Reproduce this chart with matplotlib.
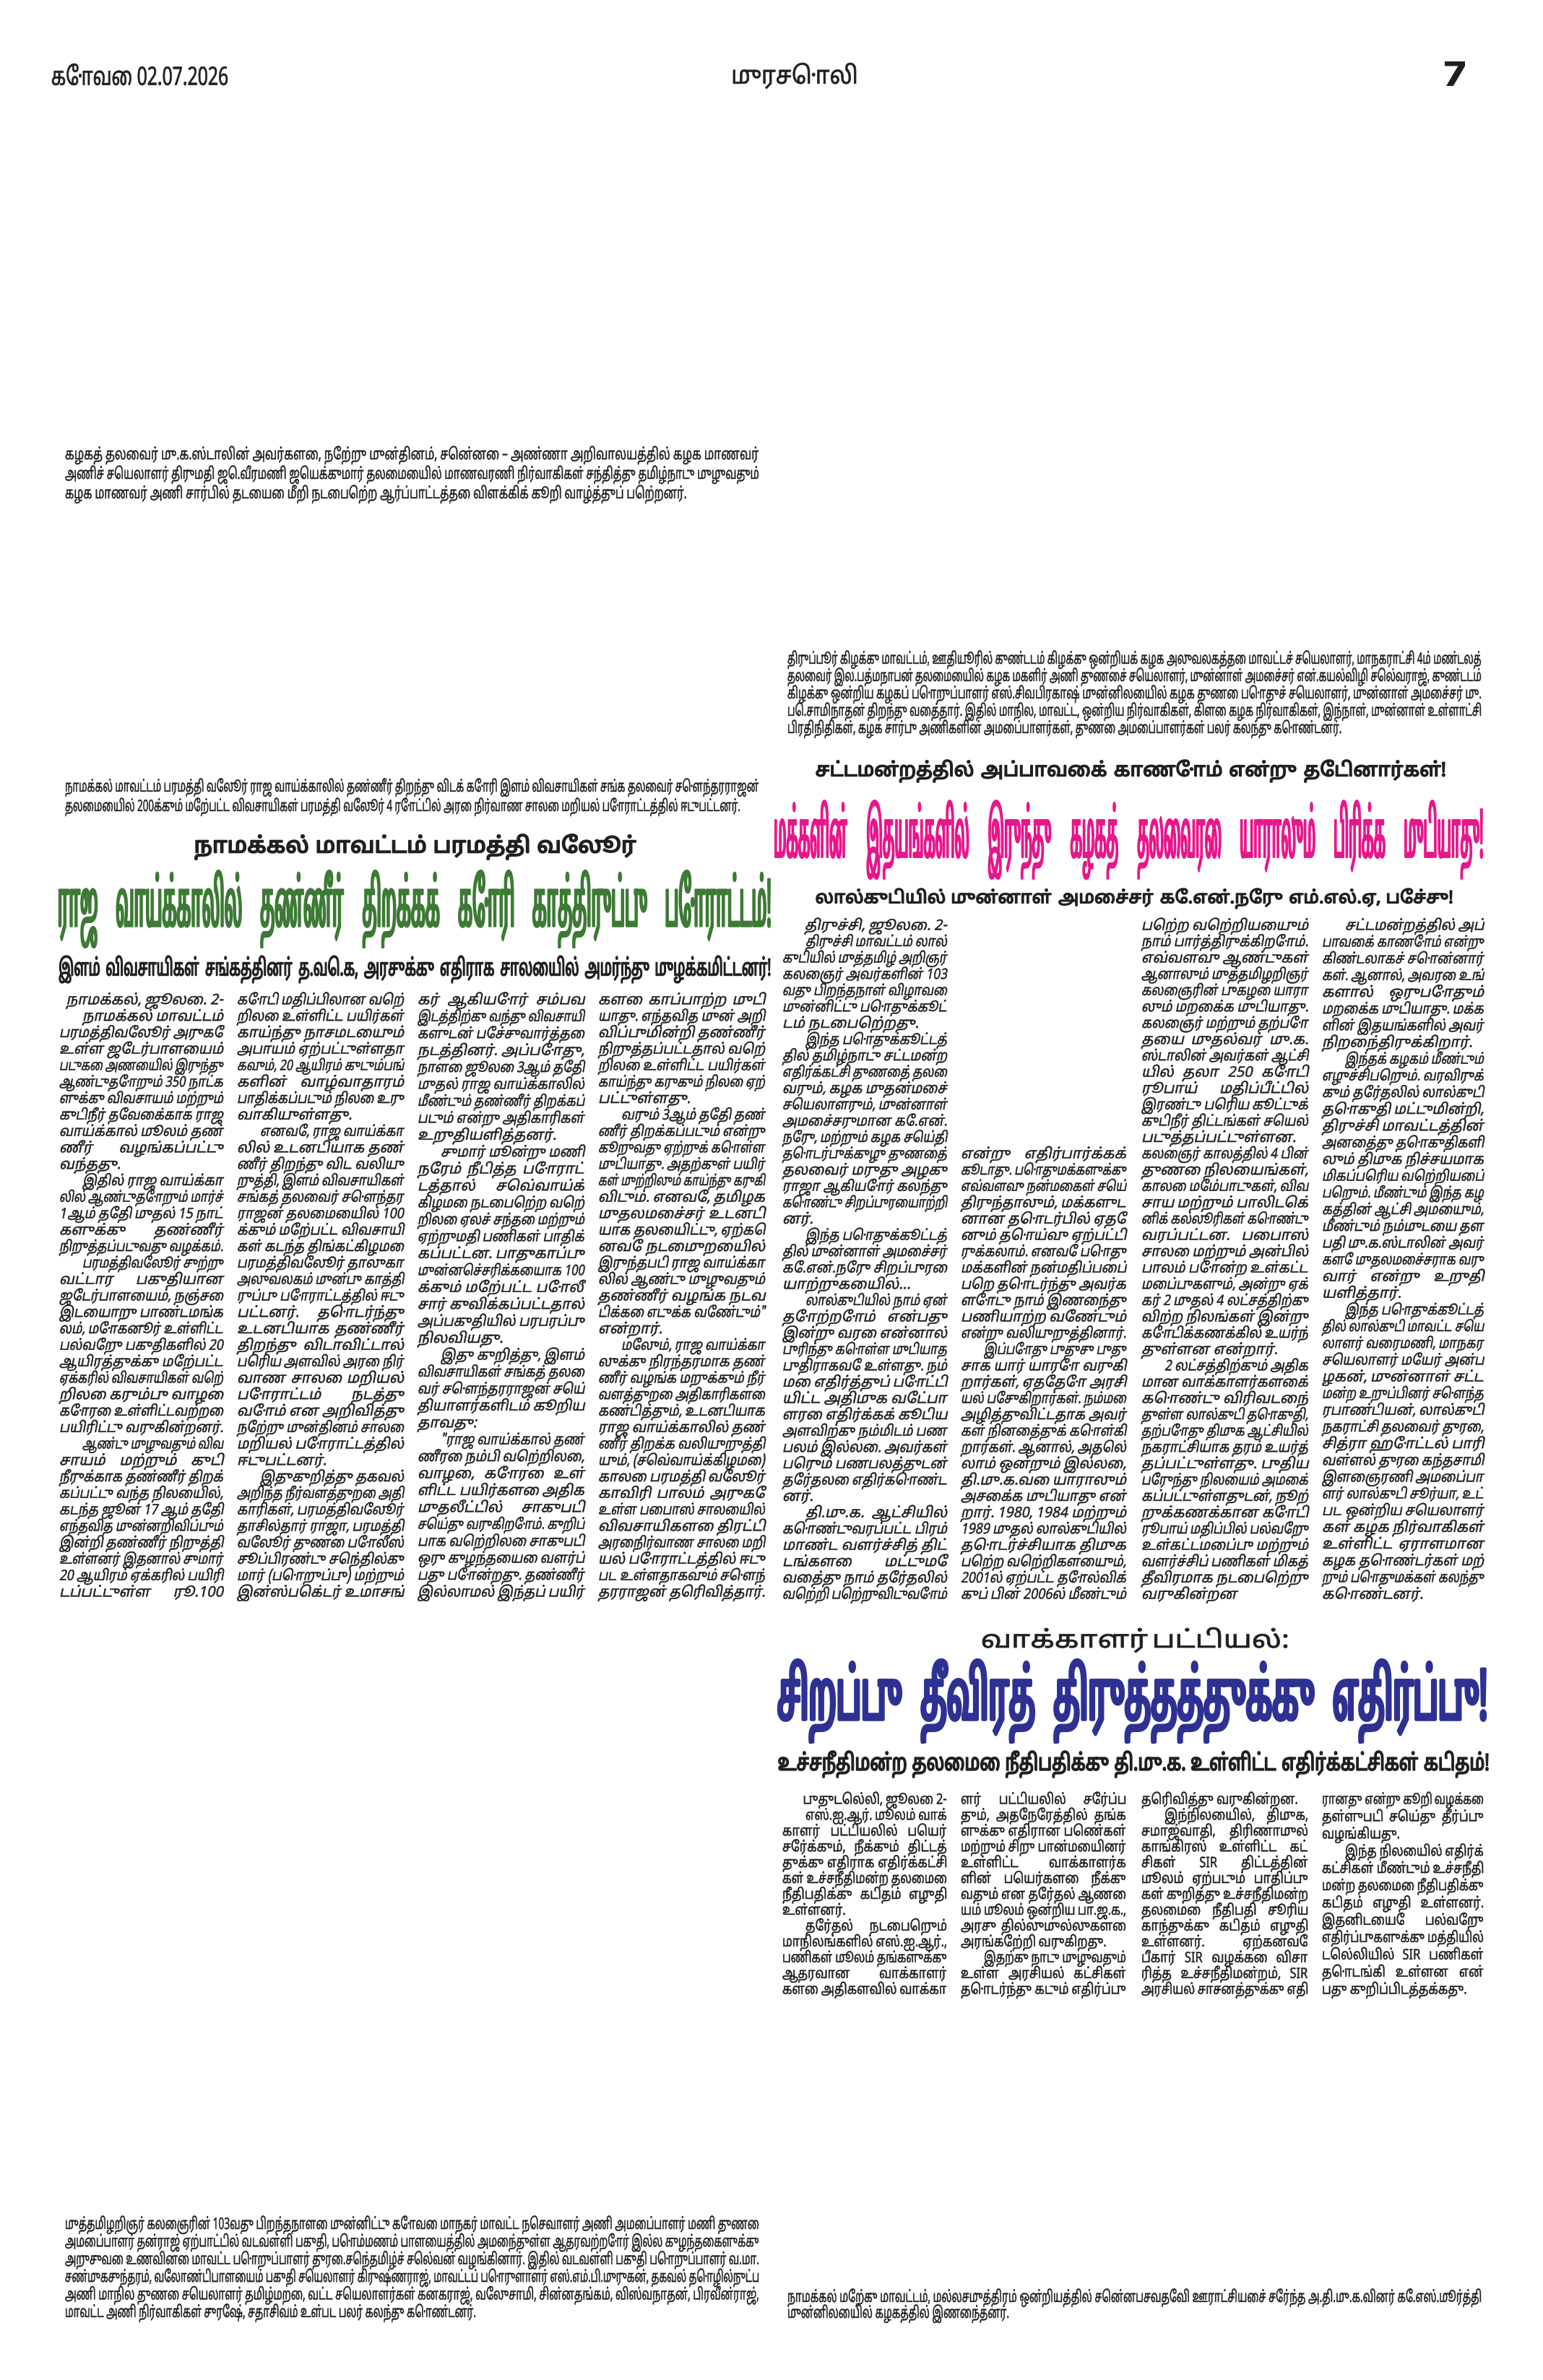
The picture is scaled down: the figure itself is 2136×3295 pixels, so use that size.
import numpy as np
import matplotlib
matplotlib.use("Agg")
import matplotlib.pyplot as plt
from matplotlib.font_manager import FontProperties
from matplotlib.patheffects import AbstractPathEffect
from matplotlib.textpath import TextPath
from matplotlib.transforms import Affine2D

SANS = ['Noto Sans Tamil', 'DejaVu Sans']
HEAVY = ['Hind Madurai', 'Noto Sans Tamil', 'DejaVu Sans']
plt.rcParams['font.family'] = SANS
INK = '#231f20'
PX = 100 / 72  # pixels per point at dpi 100

# --- page texts ---
header_left = "கோவை 02.07.2026"
header_mid = "முரசொலி"
page_no = "7"

caption_top = [
    "கழகத் தலைவர் மு.க.ஸ்டாலின் அவர்களை, நேற்று முன்தினம், சென்னை – அண்ணா அறிவாலயத்தில் கழக மாணவர்",
    "அணிச் செயலாளர் திருமதி ஜெ.வீரமணி ஜெயக்குமார் தலைமையில் மாணவரணி நிர்வாகிகள் சந்தித்து தமிழ்நாடு முழுவதும்",
    "கழக மாணவர் அணி சார்பில் தடையை மீறி நடைபெற்ற ஆர்ப்பாட்டத்தை விளக்கிக் கூறி வாழ்த்துப் பெற்றனர்.",
]
caption_right = [
    "திருப்பூர் கிழக்கு மாவட்டம், ஊதியூரில் குண்டடம் கிழக்கு ஒன்றியக் கழக அலுவலகத்தை மாவட்டச் செயலாளர், மாநகராட்சி 4ம் மண்டலத்",
    "தலைவர் இல.பத்மநாபன் தலைமையில் கழக மகளிர் அணி துணைச் செயலாளர், முன்னாள் அமைச்சர் என்.கயல்விழி செல்வராஜ், குண்டடம்",
    "கிழக்கு ஒன்றிய கழகப் பொறுப்பாளர் எஸ்.சிவபிரகாஷ் முன்னிலையில் கழக துணை பொதுச் செயலாளர், முன்னாள் அமைச்சர் மு.",
    "பெ.சாமிநாதன் திறந்து வைத்தார். இதில் மாநில, மாவட்ட, ஒன்றிய நிர்வாகிகள், கிளை கழக நிர்வாகிகள், இந்நாள், முன்னாள் உள்ளாட்சி",
    "பிரதிநிதிகள், கழக சார்பு அணிகளின் அமைப்பாளர்கள், துணை அமைப்பாளர்கள் பலர் கலந்து கொண்டனர்.",
]
caption_left = [
    "நாமக்கல் மாவட்டம் பரமத்தி வேலூர் ராஜ வாய்க்காலில் தண்ணீர் திறந்து விடக் கோரி இளம் விவசாயிகள் சங்க தலைவர் சௌந்தரராஜன்",
    "தலைமையில் 200க்கும் மேற்பட்ட விவசாயிகள் பரமத்தி வேலூர் 4 ரோட்டில் அரை நிர்வாண சாலை மறியல் போராட்டத்தில் ஈடுபட்டனர்.",
]
caption_bottom_left = [
    "முத்தமிழறிஞர் கலைஞரின் 103வது பிறந்தநாளை முன்னிட்டு கோவை மாநகர் மாவட்ட நெசவாளர் அணி அமைப்பாளர் மணி துணை",
    "அமைப்பாளர் தன்ராஜ் ஏற்பாட்டில் வடவள்ளி பகுதி, பொம்மணம் பாளையத்தில் அமைந்துள்ள ஆதரவற்றோர் இல்ல குழந்தைகளுக்கு",
    "அறுசுவை உணவினை மாவட்ட பொறுப்பாளர் துரை.செந்தமிழ்ச் செல்வன் வழங்கினார். இதில் வடவள்ளி பகுதி பொறுப்பாளர் வ.மா.",
    "சண்முகசுந்தரம், வேலாண்டிபாளையம் பகுதி செயலாளர் கிருஷ்ணராஜ், மாவட்டப் பொருளாளர் எஸ்.எம்.பி.முருகன், தகவல் தொழில்நுட்ப",
    "அணி மாநில துணை செயலாளர் தமிழ்மறை, வட்ட செயலாளர்கள் கனகராஜ், வேலுசாமி, சின்னதங்கம், விஸ்வநாதன், பிரவீன்ராஜ்,",
    "மாவட்ட அணி நிர்வாகிகள் சுரேஷ், சதாசிவம் உள்பட பலர் கலந்து கொண்டனர்.",
]
caption_bottom_right = [
    "நாமக்கல் மேற்கு மாவட்டம், மல்லசமுத்திரம் ஒன்றியத்தில் சென்னபசவதேவி ஊராட்சியைச் சேர்ந்த அ.தி.மு.க.வினர் கே.எஸ்.மூர்த்தி",
    "முன்னிலையில் கழகத்தில் இணைந்தனர்.",
]

# story 1
kicker_1 = "நாமக்கல் மாவட்டம் பரமத்தி வேலூர்"
title_1 = "ராஜ வாய்க்காலில் தண்ணீர் திறக்கக் கோரி காத்திருப்பு போராட்டம்!"
deck_1 = "இளம் விவசாயிகள் சங்கத்தினர் த.வெ.க, அரசுக்கு எதிராக சாலையில் அமர்ந்து முழக்கமிட்டனர்!"
# a leading space marks the first line of a paragraph
body_1 = [
    ["நாமக்கல், ஜூலை. 2-",
     " நாமக்கல் மாவட்டம்", "பரமத்திவேலூர் அருகே", "உள்ள ஜேடர்பாளையம்", "படுகை அணையில் இருந்து",
     "ஆண்டுதோறும் 350 நாட்க", "ளுக்கு விவசாயம் மற்றும்", "குடிநீர் தேவைக்காக ராஜ", "வாய்க்கால் மூலம் தண்",
     "ணீர் வழங்கப்பட்டு", "வந்தது.",
     " இதில் ராஜ வாய்க்கா", "லில் ஆண்டுதோறும் மார்ச்", "1 ஆம் தேதி முதல் 15 நாட்", "களுக்கு தண்ணீர்",
     "நிறுத்தப்படுவது வழக்கம்.",
     " பரமத்திவேலூர் சுற்று", "வட்டார பகுதியான", "ஜேடர்பாளையம், நஞ்சை", "இடையாறு பாண்டமங்க",
     "லம், மோகனூர் உள்ளிட்ட", "பல்வேறு பகுதிகளில் 20", "ஆயிரத்துக்கு மேற்பட்ட", "ஏக்கரில் விவசாயிகள் வெற்",
     "றிலை கரும்பு வாழை", "கோரை உள்ளிட்டவற்றை", "பயிரிட்டு வருகின்றனர்.",
     " ஆண்டு முழுவதும் விவ", "சாயம் மற்றும் குடி", "நீருக்காக தண்ணீர் திறக்", "கப்பட்டு வந்த நிலையில்,",
     "கடந்த ஜூன் 17 ஆம் தேதி", "எந்தவித முன்னறிவிப்பும்", "இன்றி தண்ணீர் நிறுத்தி", "உள்ளனர் இதனால் சுமார்",
     "20 ஆயிரம் ஏக்கரில் பயிரி", "டப்பட்டுள்ள ரூ.100"],
    ["கோடி மதிப்பிலான வெற்", "றிலை உள்ளிட்ட பயிர்கள்", "காய்ந்து நாசமடையும்", "அபாயம் ஏற்பட்டுள்ளதா",
     "கவும், 20 ஆயிரம் குடும்பங்", "களின் வாழ்வாதாரம்", "பாதிக்கப்படும் நிலை உரு", "வாகியுள்ளது.",
     " எனவே, ராஜ வாய்க்கா", "லில் உடனடியாக தண்", "ணீர் திறந்து விட வலியு", "றுத்தி, இளம் விவசாயிகள்",
     "சங்கத் தலைவர் சௌந்தர", "ராஜன் தலைமையில் 100", "க்கும் மேற்பட்ட விவசாயி", "கள் கடந்த திங்கட்கிழமை",
     "பரமத்திவேலூர் தாலுகா", "அலுவலகம் முன்பு காத்தி", "ருப்பு போராட்டத்தில் ஈடு", "பட்டனர். தொடர்ந்து",
     "உடனடியாக தண்ணீர்", "திறந்து விடாவிட்டால்", "பெரிய அளவில் அரை நிர்", "வாண சாலை மறியல்",
     "போராட்டம் நடத்து", "வோம் என அறிவித்து", "நேற்று முன்தினம் சாலை", "மறியல் போராட்டத்தில்",
     "ஈடுபட்டனர்.",
     " இதுகுறித்து தகவல்", "அறிந்த நீர்வளத்துறை அதி", "காரிகள், பரமத்திவேலூர்", "தாசில்தார் ராஜா, பரமத்தி",
     "வேலூர் துணை போலீஸ்", "சூப்பிரண்டு செந்தில்கு", "மார் (பொறுப்பு) மற்றும்", "இன்ஸ்பெக்டர் உமாசங்"],
    ["கர் ஆகியோர் சம்பவ", "இடத்திற்கு வந்து விவசாயி", "களுடன் பேச்சுவார்த்தை", "நடத்தினர். அப்போது,",
     "நாளை ஜூலை 3ஆம் தேதி", "முதல் ராஜ வாய்க்காலில்", "மீண்டும் தண்ணீர் திறக்கப்", "படும் என்று அதிகாரிகள்",
     "உறுதியளித்தனர்.",
     " சுமார் மூன்று மணி", "நேரம் நீடித்த போராட்", "டத்தால் செவ்வாய்க்", "கிழமை நடைபெற்ற வெற்",
     "றிலை ஏலச் சந்தை மற்றும்", "ஏற்றுமதி பணிகள் பாதிக்", "கப்பட்டன. பாதுகாப்பு", "முன்னெச்சரிக்கையாக 100",
     "க்கும் மேற்பட்ட போலீ", "சார் குவிக்கப்பட்டதால்", "அப்பகுதியில் பரபரப்பு", "நிலவியது.",
     " இது குறித்து, இளம்", "விவசாயிகள் சங்கத் தலை", "வர் சௌந்தரராஜன் செய்", "தியாளர்களிடம் கூறிய",
     "தாவது:",
     " \"ராஜ வாய்க்கால் தண்", "ணீரை நம்பி வெற்றிலை,", "வாழை, கோரை உள்", "ளிட்ட பயிர்களை அதிக",
     "முதலீட்டில் சாகுபடி", "செய்து வருகிறோம். குறிப்", "பாக வெற்றிலை சாகுபடி", "ஒரு குழந்தையை வளர்ப்",
     "பது போன்றது. தண்ணீர்", "இல்லாமல் இந்தப் பயிர்"],
    ["களை காப்பாற்ற முடி", "யாது. எந்தவித முன் அறி", "விப்புமின்றி தண்ணீர்", "நிறுத்தப்பட்டதால் வெற்",
     "றிலை உள்ளிட்ட பயிர்கள்", "காய்ந்து கருகும் நிலை ஏற்", "பட்டுள்ளது.",
     " வரும் 3ஆம் தேதி தண்", "ணீர் திறக்கப்படும் என்று", "கூறுவது ஏற்றுக் கொள்ள", "முடியாது. அதற்குள் பயிர்",
     "கள் முற்றிலும் காய்ந்து கருகி", "விடும். எனவே, தமிழக", "முதலமைச்சர் உடனடி", "யாக தலையிட்டு, ஏற்கெ",
     "னவே நடைமுறையில்", "இருந்தபடி ராஜ வாய்க்கா", "லில் ஆண்டு முழுவதும்", "தண்ணீர் வழங்க நடவ",
     "டிக்கை எடுக்க வேண்டும்\"", "என்றார்.",
     " மேலும், ராஜ வாய்க்கா", "லுக்கு நிரந்தரமாக தண்", "ணீர் வழங்க மறுக்கும் நீர்", "வளத்துறை அதிகாரிகளை",
     "கண்டித்தும், உடனடியாக", "ராஜ வாய்க்காலில் தண்", "ணீர் திறக்க வலியுறுத்தி", "யும், (செவ்வாய்க்கிழமை)",
     "காலை பரமத்தி வேலூர்", "காவிரி பாலம் அருகே", "உள்ள பைபாஸ் சாலையில்", "விவசாயிகளை திரட்டி",
     "அரைநிர்வாண சாலை மறி", "யல் போராட்டத்தில் ஈடு", "பட உள்ளதாகவும் சௌந்", "தரராஜன் தெரிவித்தார்."],
]

# story 2
kicker_2 = "சட்டமன்றத்தில் அப்பாவைக் காணோம் என்று தேடினார்கள்!"
title_2 = "மக்களின் இதயங்களில் இருந்து கழகத் தலைவரை யாராலும் பிரிக்க முடியாது!"
deck_2 = "லால்குடியில் முன்னாள் அமைச்சர் கே.என்.நேரு எம்.எல்.ஏ, பேச்சு!"
body_2 = [
    ["திருச்சி, ஜூலை. 2-",
     " திருச்சி மாவட்டம் லால்", "குடியில் முத்தமிழ் அறிஞர்", "கலைஞர் அவர்களின் 103", "வது பிறந்தநாள் விழாவை",
     "முன்னிட்டு பொதுக்கூட்", "டம் நடைபெற்றது.",
     " இந்த பொதுக்கூட்டத்", "தில் தமிழ்நாடு சட்டமன்ற", "எதிர்க்கட்சி துணைத் தலை", "வரும், கழக முதன்மைச்",
     "செயலாளரும், முன்னாள்", "அமைச்சருமான கே.என்.", "நேரு, மற்றும் கழக செய்தி", "தொடர்புக்குழு துணைத்",
     "தலைவர் மருது அழகு", "ராஜா ஆகியோர் கலந்து", "கொண்டு சிறப்புரையாற்றி", "னர்.",
     " இந்த பொதுக்கூட்டத்", "தில் முன்னாள் அமைச்சர்", "கே.என்.நேரு சிறப்புரை", "யாற்றுகையில்...",
     " லால்குடியில் நாம் ஏன்", "தோற்றோம் என்பது", "இன்று வரை என்னால்", "புரிந்து கொள்ள முடியாத",
     "புதிராகவே உள்ளது. நம்", "மை எதிர்த்துப் போட்டி", "யிட்ட அதிமுக வேட்பா", "ளரை எதிர்க்கக் கூடிய",
     "அளவிற்கு நம்மிடம் பண", "பலம் இல்லை. அவர்கள்", "பெரும் பணபலத்துடன்", "தேர்தலை எதிர்கொண்ட",
     "னர்.",
     " தி.மு.க. ஆட்சியில்", "கொண்டுவரப்பட்ட பிரம்", "மாண்ட வளர்ச்சித் திட்", "டங்களை மட்டுமே",
     "வைத்து நாம் தேர்தலில்", "வெற்றி பெற்றுவிடுவோம்"],
    ["என்று எதிர்பார்க்கக்", "கூடாது. பொதுமக்களுக்கு", "எவ்வளவு நன்மைகள் செய்", "திருந்தாலும், மக்களுட",
     "னான தொடர்பில் ஏதே", "னும் தொய்வு ஏற்பட்டி", "ருக்கலாம். எனவே பொது", "மக்களின் நன்மதிப்பைப்",
     "பெற தொடர்ந்து அவர்க", "ளோடு நாம் இணைந்து", "பணியாற்ற வேண்டும்", "என்று வலியுறுத்தினார்.",
     " இப்போது புதுசு புது", "சாக யார் யாரோ வருகி", "றார்கள், ஏதேதோ அரசி", "யல் பேசுகிறார்கள். நம்மை",
     "அழித்துவிட்டதாக அவர்", "கள் நினைத்துக் கொள்கி", "றார்கள். ஆனால், அதெல்", "லாம் ஒன்றும் இல்லை,",
     "தி.மு.க.வை யாராலும்", "அசைக்க முடியாது என்", "றார். 1980, 1984 மற்றும்", "1989 முதல் லால்குடியில்",
     "தொடர்ச்சியாக திமுக", "பெற்ற வெற்றிகளையும்,", "2001ல் ஏற்பட்ட தோல்விக்", "குப் பின் 2006ல் மீண்டும்"],
    ["பெற்ற வெற்றியையும்", "நாம் பார்த்திருக்கிறோம்.", "எவ்வளவு ஆண்டுகள்", "ஆனாலும் முத்தமிழறிஞர்",
     "கலைஞரின் புகழை யாரா", "லும் மறைக்க முடியாது.", "கலைஞர் மற்றும் தற்போ", "தைய முதல்வர் மு.க.",
     "ஸ்டாலின் அவர்கள் ஆட்சி", "யில் தலா 250 கோடி", "ரூபாய் மதிப்பீட்டில்", "இரண்டு பெரிய கூட்டுக்",
     "குடிநீர் திட்டங்கள் செயல்", "படுத்தப்பட்டுள்ளன.", "கலைஞர் காலத்தில் 4 பின்", "துணை நிலையங்கள்,",
     "காலை மேம்பாடுகள், விவ", "சாய மற்றும் பாலிடெக்", "னிக் கல்லூரிகள் கொண்டு", "வரப்பட்டன. பைபாஸ்",
     "சாலை மற்றும் அன்பில்", "பாலம் போன்ற உள்கட்ட", "மைப்புகளும், அன்று ஏக்", "கர் 2 முதல் 4 லட்சத்திற்கு",
     "விற்ற நிலங்கள் இன்று", "கோடிக்கணக்கில் உயர்ந்", "துள்ளன என்றார்.",
     " 2 லட்சத்திற்கும் அதிக", "மான வாக்காளர்களைக்", "கொண்டு விரிவடைந்", "துள்ள லால்குடி தொகுதி,",
     "தற்போது திமுக ஆட்சியில்", "நகராட்சியாக தரம் உயர்த்", "தப்பட்டுள்ளது. புதிய", "பேருந்து நிலையம் அமைக்",
     "கப்பட்டுள்ளதுடன், நூற்", "றுக்கணக்கான கோடி", "ரூபாய் மதிப்பில் பல்வேறு", "உள்கட்டமைப்பு மற்றும்",
     "வளர்ச்சிப் பணிகள் மிகத்", "தீவிரமாக நடைபெற்று", "வருகின்றன"],
    [" சட்டமன்றத்தில் அப்", "பாவைக் காணோம் என்று", "கிண்டலாகச் சொன்னார்", "கள். ஆனால், அவரை உங்",
     "களால் ஒருபோதும்", "மறைக்க முடியாது. மக்க", "ளின் இதயங்களில் அவர்", "நிறைந்திருக்கிறார்.",
     " இந்தக் கழகம் மீண்டும்", "எழுச்சிபெறும். வரவிருக்", "கும் தேர்தலில் லால்குடி", "தொகுதி மட்டுமின்றி,",
     "திருச்சி மாவட்டத்தின்", "அனைத்து தொகுதிகளி", "லும் திமுக நிச்சயமாக", "மிகப்பெரிய வெற்றியைப்",
     "பெறும். மீண்டும் இந்த கழ", "கத்தின் ஆட்சி அமையும்,", "மீண்டும் நம்முடைய தள", "பதி மு.க.ஸ்டாலின் அவர்",
     "களே முதலமைச்சராக வரு", "வார் என்று உறுதி", "யளித்தார்.",
     " இந்த பொதுக்கூட்டத்", "தில் லால்குடி மாவட்ட செய", "லாளர் வைரமணி, மாநகர", "செயலாளர் மேயர் அன்ப",
     "ழகன், முன்னாள் சட்ட", "மன்ற உறுப்பினர் சௌந்த", "ரபாண்டியன், லால்குடி", "நகராட்சி தலைவர் துரை,",
     "சித்ரா ஹோட்டல் பாரி", "வள்ளல் துரை கந்தசாமி", "இளைஞரணி அமைப்பா", "ளர் லால்குடி சூர்யா, உட்",
     "பட ஒன்றிய செயலாளர்", "கள் கழக நிர்வாகிகள்", "உள்ளிட்ட ஏராளமான", "கழக தொண்டர்கள் மற்",
     "றும் பொதுமக்கள் கலந்து", "கொண்டனர்."],
]

# story 3
kicker_3 = "வாக்காளர் பட்டியல்:"
title_3 = "சிறப்பு தீவிரத் திருத்தத்துக்கு எதிர்ப்பு!"
deck_3 = "உச்சநீதிமன்ற தலைமை நீதிபதிக்கு தி.மு.க. உள்ளிட்ட எதிர்க்கட்சிகள் கடிதம்!"
body_3 = [
    ["புதுடெல்லி, ஜூலை 2-",
     " எஸ்.ஐ.ஆர். மூலம் வாக்", "காளர் பட்டியலில் பெயர்", "சேர்க்கும், நீக்கும் திட்டத்", "துக்கு எதிராக எதிர்க்கட்சி",
     "கள் உச்சநீதிமன்ற தலைமை", "நீதிபதிக்கு கடிதம் எழுதி", "உள்ளனர்.",
     " தேர்தல் நடைபெறும்", "மாநிலங்களில் எஸ்.ஐ.ஆர்.,", "பணிகள் மூலம் தங்களுக்கு", "ஆதரவான வாக்காளர்",
     "களை அதிகளவில் வாக்கா"],
    ["ளர் பட்டியலில் சேர்ப்ப", "தும், அதேநேரத்தில் தங்க", "ளுக்கு எதிரான பெண்கள்", "மற்றும் சிறு பான்மையினர்",
     "உள்ளிட்ட வாக்காளர்க", "ளின் பெயர்களை நீக்கு", "வதும் என தேர்தல் ஆணை", "யம் மூலம் ஒன்றிய பா.ஜ.க.,",
     "அரசு தில்லுமுல்லுகளை", "அரங்கேற்றி வருகிறது.", " இதற்கு நாடு முழுவதும்", "உள்ள அரசியல் கட்சிகள்",
     "தொடர்ந்து கடும் எதிர்ப்பு"],
    ["தெரிவித்து வருகின்றன.", " இந்நிலையில், திமுக,", "சமாஜ்வாதி, திரிணாமுல்", "காங்கிரஸ் உள்ளிட்ட கட்",
     "சிகள் SIR திட்டத்தின்", "மூலம் ஏற்படும் பாதிப்பு", "கள் குறித்து உச்சநீதிமன்ற", "தலைமை நீதிபதி சூரிய",
     "காந்துக்கு கடிதம் எழுதி", "உள்ளனர். ஏற்கனவே", "பீகார் SIR வழக்கை விசா", "ரித்த உச்சநீதிமன்றம், SIR",
     "அரசியல் சாசனத்துக்கு எதி"],
    ["ரானது என்று கூறி வழக்கை", "தள்ளுபடி செய்து தீர்ப்பு", "வழங்கியது.", " இந்த நிலையில் எதிர்க்",
     "கட்சிகள் மீண்டும் உச்சநீதி", "மன்ற தலைமை நீதிபதிக்கு", "கடிதம் எழுதி உள்ளனர்.", "இதனிடையே பல்வேறு",
     "எதிர்ப்புகளுக்கு மத்தியில்", "டெல்லியில் SIR பணிகள்", "தொடங்கி உள்ளன என்", "பது குறிப்பிடத்தக்கது."],
]

# --- figure ---
W, H = 2136, 3295
fig = plt.figure(figsize=(W / 100, H / 100), dpi=100)
ax = fig.add_axes([0, 0, 1, 1])
ax.set_xlim(0, W)
ax.set_ylim(H, 0)
ax.axis('off')


class Shape(AbstractPathEffect):
    """Stretch the glyph outlines vertically, slant them, and thicken them."""

    def __init__(self, sy=1.0, slant=0.0, lw=0.0):
        super().__init__()
        self.tr = Affine2D().skew_deg(slant, 0).scale(1.0, sy)
        self.lw = lw

    def draw_path(self, renderer, gc, tpath, affine, rgbFace=None):
        gc0 = renderer.new_gc()
        gc0.copy_properties(gc)
        if self.lw:
            gc0.set_linewidth(self.lw)
            gc0.set_foreground(rgbFace)
            gc0.set_joinstyle('round')
        renderer.draw_path(gc0, tpath, self.tr + affine, rgbFace)
        gc0.restore()


def ink(s, family, weight='normal'):
    # glyph extents in em units, y up from the baseline
    prop = FontProperties(family=family, weight=weight)
    return TextPath((0, 0), s, size=1, prop=prop).get_extents()


def put(s, x, base, fx, fy, family, weight='normal', color=INK, slant=0.0, lw=0.0):
    prop = FontProperties(family=family, weight=weight, size=fx / PX)
    ax.text(x, base, s, ha='left', va='baseline', fontproperties=prop, color=color,
            path_effects=[Shape(fy / fx, slant, lw)])


def box(s, x0, x1, top, bottom, family=HEAVY, weight='bold', color=INK, lw=0.0):
    e = ink(s, family, weight)
    fx = (x1 - x0) / e.width
    fy = (bottom - top) / e.height
    put(s, x0 - e.x0 * fx, bottom + e.y0 * fy, fx, fy, family, weight, color, lw=lw)


def headline(s, x0, x1, top, bottom, color=INK, bold=0.07, gap=0.3):
    # one text per word so the word gaps stay open; stroke grows with the glyph width
    words = s.split()
    exts = [ink(w, SANS) for w in words]
    lo = min(e.y0 for e in exts)
    hi = max(e.y1 for e in exts)
    fy = (bottom - top) / (hi - lo)
    g = gap * fy
    fx = (x1 - x0 - g * (len(words) - 1)) / sum(e.width for e in exts)
    lw = bold * fx / PX
    base = bottom + lo * fy
    x = x0
    for w, e in zip(words, exts):
        put(w, x - e.x0 * fx, base, fx, fy, SANS, color=color, lw=lw)
        x += e.width * fx + g


def line(s, x0, x1, yc, em, mode, slant=0.0, squeeze=1.0, family=SANS, lw=0.35):
    words = s.split()
    adv = [ink(w, family).x1 for w in words]
    base = yc + 0.27 * em
    room = x1 - x0
    natural = sum(adv) + 0.3 * (len(words) - 1)
    fx = min(em * squeeze, room / natural)
    if mode == 'justify' and len(words) > 1:
        gap = (room - fx * sum(adv)) / (len(words) - 1)
    else:
        gap = 0.3 * fx
    total = fx * sum(adv) + gap * (len(words) - 1)
    x = x1 - total if mode == 'right' else x0
    for w, a in zip(words, adv):
        put(w, x, base, fx, em, family, slant=slant, lw=lw)
        x += a * fx + gap


def column(lines, x0, x1, top, bottom, em, slant=0.0, squeeze=1.0):
    step = (bottom - top) / max(len(lines) - 1, 1)
    for i, raw in enumerate(lines):
        s = raw.strip()
        nxt = lines[i + 1] if i + 1 < len(lines) else None
        ends = (nxt is not None and nxt.startswith(' ')) or (nxt is None and s[-1] in '.:!"')
        if i == 0 and s.endswith('2-'):
            mode = 'right'
        else:
            mode = 'left' if ends else 'justify'
        left = x0 + 32 if raw.startswith(' ') else x0
        line(s, left, x1, top + i * step, em, mode, slant, squeeze)


def caption(lines, x0, x1, y0, step, em=22):
    fxs = []
    for i, s in enumerate(lines):
        fx = (x1 - x0) / ink(s, SANS).x1
        if i == len(lines) - 1 and fxs:
            fx = min(fx, np.mean(fxs))
        fxs.append(fx)
        put(s, x0, y0 + i * step + 0.27 * em, fx, em, SANS, lw=0.3)


# header
box(header_left, 72, 315, 88, 118, SANS, 'normal', lw=0.5)
box(header_mid, 1015, 1185, 87, 123, SANS, 'normal', lw=0.5)
box(page_no, 2000, 2028, 85, 119, HEAVY, 'bold')

# photo captions
caption(caption_top, 90, 1050, 630, 27)
caption(caption_right, 1090, 2050, 913, 24)
caption(caption_left, 90, 1050, 1090, 27)
caption(caption_bottom_left, 90, 1050, 3080, 24.4)
caption(caption_bottom_right, 1090, 2050, 3181, 22)

# story 1
cols_left = [(82, 308), (328, 558), (578, 808), (828, 1058)]
headline(kicker_1, 270, 880, 1155, 1190, bold=0.06, gap=0.45)
headline(title_1, 82, 1066, 1205, 1312, color='#3d7a35', bold=0.10)
headline(deck_1, 82, 1066, 1323, 1361, bold=0.07)
for k, (x0, x1) in enumerate(cols_left):
    column(body_1[k], x0, x1, 1385, 2205, 20, slant=12)

# story 2
cols_right = [(1083, 1310), (1330, 1558), (1580, 1810), (1830, 2053)]
headline(kicker_2, 1130, 2000, 1052, 1083, bold=0.06, gap=0.45)
headline(title_2, 1073, 2052, 1108, 1217, color='#e8168b', bold=0.10)
headline(deck_2, 1130, 2010, 1230, 1258, bold=0.06, gap=0.45)
step2 = (2208 - 1282) / (len(body_2[0]) - 1)
for k, (x0, x1) in enumerate(cols_right):
    top = 1282
    if k == 1:
        top = 2208 - step2 * (len(body_2[1]) - 1)
    column(body_2[k], x0, x1, top, 2208, 20, slant=12)

# story 3
headline(kicker_3, 1360, 1782, 2253, 2288, bold=0.02)
headline(title_3, 1078, 2056, 2298, 2412, color='#2e3192', bold=0.10)
headline(deck_3, 1078, 2060, 2424, 2461, bold=0.07)
for k, (x0, x1) in enumerate(cols_right):
    column(body_3[k], x0, x1, 2492, 2755, 20, squeeze=0.82)

fig.savefig('out.png', dpi=100, facecolor='white')
